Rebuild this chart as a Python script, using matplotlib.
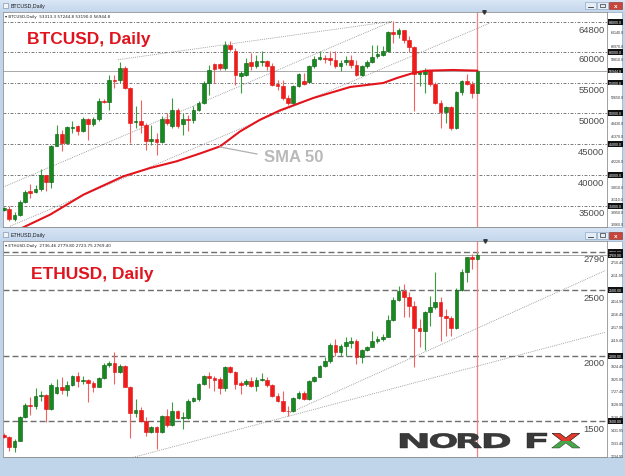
import matplotlib
matplotlib.use("Agg")
import matplotlib.pyplot as plt
import numpy as np
from matplotlib.patches import Rectangle, PathPatch
from matplotlib.textpath import TextPath
from matplotlib.font_manager import FontProperties
from matplotlib.transforms import Affine2D, blended_transform_factory
from matplotlib.colors import to_rgb

plt.rcParams['font.family'] = ['Liberation Sans', 'DejaVu Sans']

W, H, DPI = 625, 477, 100

# ---------------- BTCUSD daily OHLC ----------------
btc_open = [34400, 34540, 32920, 33570, 35620, 37350, 37250, 37790, 39950, 38810,
            44760, 46700, 45190, 47620, 47890, 47080, 49080, 48270, 49080, 52050,
            51840, 55460, 55460, 57350, 54110, 48600, 48810, 48160, 45570, 45890,
            45350, 49140, 47890, 50600, 48330, 49080, 48970, 50490, 51680, 54920,
            58000, 58000, 57350, 61140, 60160, 56000, 56270, 58270, 57620, 58320,
            58540, 57620, 54760, 54380, 52490, 51680, 54380, 55190, 55030, 57620,
            58870, 58970, 58970, 58700, 57620, 58270, 58700, 57780, 56160, 57620,
            58320, 59240, 59510, 60050, 63130, 62920, 63460, 61840, 60700, 56430,
            56320, 56970, 54810, 51680, 50160, 50970, 47620, 53410, 55300, 54810,
            53300]
btc_high = [34820, 34920, 33950, 35890, 37520, 38600, 38430, 40970, 40060, 44920,
            48160, 47350, 48000, 48700, 48160, 49410, 49240, 49410, 52490, 52330,
            56270, 56270, 58270, 57620, 54270, 51140, 52110, 48430, 48160, 46810,
            49510, 50060, 52490, 50870, 50060, 49780, 51140, 51950, 55190, 57890,
            58100, 58160, 61680, 61680, 60590, 56810, 58970, 59780, 59510, 60050,
            58700, 58160, 55460, 55460, 53030, 54650, 56540, 56540, 57780, 59240,
            60050, 59510, 60050, 60050, 58700, 59240, 59510, 58700, 57780, 58700,
            61140, 61140, 60870, 63300, 64920, 63840, 63570, 62490, 60870, 56970,
            57350, 57080, 55030, 52220, 51140, 51140, 53570, 55460, 56380, 55190,
            57080]
btc_low = [34100, 32490, 32490, 33410, 35460, 36270, 37080, 37350, 37350, 37890,
           44650, 43840, 45080, 46810, 46540, 46920, 45730, 48000, 48700, 51680,
           50600, 54110, 54920, 53950, 45190, 47620, 46810, 44110, 44920, 43300,
           45190, 48160, 47620, 47620, 46540, 47080, 48430, 50330, 51570, 53030,
           54920, 57080, 57080, 60050, 54650, 53300, 56000, 57080, 57350, 57620,
           57080, 54380, 53840, 52220, 51410, 51570, 54270, 54650, 54920, 57350,
           58700, 58160, 57890, 57350, 56810, 57890, 57350, 56000, 56000, 57350,
           58160, 58970, 59240, 59890, 61410, 62220, 61410, 59890, 50430, 54380,
           53300, 54380, 51570, 47620, 48430, 47240, 47460, 53030, 54650, 52490,
           53250]
btc_close = [34650, 32920, 33570, 35620, 37250, 37080, 37790, 39950, 38810, 44760,
             46700, 45190, 47730, 47840, 47080, 49140, 48270, 49080, 52050, 51840,
             55460, 55300, 57350, 54110, 48430, 48810, 48160, 45570, 45890, 45350,
             49140, 48430, 50600, 47890, 49080, 48970, 50490, 51680, 54920, 56970,
             57190, 57350, 61140, 60430, 56270, 56540, 58160, 57620, 58540, 58540,
             57620, 54650, 54430, 52490, 51680, 54490, 56380, 54810, 57620, 58810,
             59140, 58810, 58700, 57620, 58160, 58700, 57780, 56160, 57620, 58320,
             59140, 59680, 60050, 63130, 62920, 63460, 61840, 60700, 56380, 56650,
             56970, 54810, 51680, 50160, 50970, 47620, 53410, 55240, 54810, 53300,
             56940]
# SMA 50 (bar index, value)
btc_sma_x = [2.5, 8.75, 15.1, 22.7, 27.8, 32.8, 37.3, 41.1, 44.9, 48.7, 52.5,
             58.8, 65.8, 72.1, 74.7, 77.8, 80.4, 85.4, 90]
btc_sma = [31040, 33570, 36810, 39790, 41140, 42220, 43500, 44650, 47080, 48970,
           50490, 52490, 54270, 54920, 55730, 56540, 56920, 57030, 56920]
btc_levels = [64800, 60000, 55000, 50000, 45000, 40000, 35000]
btc_level_labels = ["64800", "60000", "55000", "50000", "45000", "40000", "35000"]
btc_bid = 56944.8
btc_scale_vals = [63140.0, 60970.0, 58810.0, 52650.0, 48430.0, 46370.0,
                  42220.0, 38010.0, 36110.0, 33950.0, 32060.0]
# trend lines (bar index, price)
btc_trend = [((21.67, 58700), (73.76, 64920)),
             ((-0.13, 38050), (73.76, 64920)),
             ((1.14, 31690), (92.4, 64650))]

# ---------------- ETHUSD daily OHLC ----------------
eth_open = [1395.9, 1383.2, 1307.1, 1352.8, 1530.4, 1626.9, 1619.3, 1690.3, 1700.5, 1593.9,
            1715.7, 1758.9, 1741.1, 1774.1, 1842.6, 1809.6, 1817.2, 1789.3, 1763.9, 1829.9,
            1931.4, 1944.1, 1878.2, 1921.3, 1763.9, 1560.9, 1586.3, 1505.1, 1416.2, 1459.4,
            1421.3, 1538.1, 1472.1, 1581.2, 1525.4, 1525.4, 1657.3, 1670.0, 1784.2, 1842.6,
            1829.9, 1822.3, 1753.8, 1916.2, 1873.1, 1789.3, 1784.2, 1804.5, 1771.6, 1814.7,
            1817.2, 1776.7, 1690.3, 1657.3, 1581.2, 1581.2, 1675.1, 1715.7, 1670.0, 1804.5,
            1840.1, 1923.8, 1956.8, 2083.8, 2025.4, 2071.1, 2096.4, 2109.1, 1992.4, 2043.3,
            2068.5, 2109.1, 2126.9, 2144.6, 2271.5, 2423.8, 2494.9, 2444.1, 2380.7, 2210.6,
            2190.3, 2329.9, 2368.0, 2411.1, 2304.5, 2286.8, 2210.6, 2500.0, 2639.6, 2748.7,
            2736.0]
eth_high = [1408.6, 1390.8, 1365.5, 1538.1, 1637.0, 1687.8, 1753.8, 1733.5, 1708.1, 1789.3,
            1822.3, 1835.0, 1809.6, 1852.8, 1873.1, 1847.7, 1822.3, 1809.6, 1840.1, 1941.6,
            1961.9, 2030.4, 1936.5, 1931.4, 1771.6, 1670.0, 1606.6, 1530.4, 1467.0, 1467.0,
            1548.2, 1593.9, 1644.6, 1588.8, 1568.5, 1670.0, 1687.8, 1791.9, 1852.8, 1873.1,
            1847.7, 1835.0, 1923.8, 1923.8, 1885.8, 1809.6, 1822.3, 1835.0, 1835.0, 1865.5,
            1835.0, 1784.2, 1715.7, 1733.5, 1619.3, 1682.7, 1728.4, 1728.4, 1814.7, 1847.7,
            1931.4, 1992.4, 2093.9, 2126.9, 2088.8, 2139.6, 2144.6, 2126.9, 2050.7, 2076.1,
            2185.2, 2152.3, 2164.9, 2312.2, 2444.1, 2533.0, 2545.6, 2482.2, 2418.7, 2279.2,
            2342.6, 2456.8, 2634.5, 2444.1, 2355.3, 2304.5, 2515.2, 2659.9, 2753.8, 2774.1,
            2779.1]
eth_low = [1373.1, 1276.6, 1264.0, 1347.7, 1525.4, 1550.7, 1593.9, 1657.3, 1492.4, 1586.3,
           1708.1, 1708.1, 1695.4, 1766.5, 1758.9, 1784.2, 1644.6, 1720.8, 1758.9, 1822.3,
           1911.1, 1784.2, 1870.5, 1758.9, 1373.1, 1530.4, 1492.4, 1390.8, 1408.6, 1289.3,
           1413.7, 1454.3, 1467.0, 1517.8, 1441.6, 1517.8, 1649.7, 1657.3, 1779.2, 1753.8,
           1733.5, 1708.1, 1728.4, 1865.5, 1746.2, 1708.1, 1771.6, 1758.9, 1728.4, 1809.6,
           1763.9, 1682.7, 1649.7, 1568.5, 1543.1, 1568.5, 1670.0, 1662.5, 1665.0, 1797.0,
           1835.0, 1911.1, 1941.6, 2000.0, 2000.0, 2000.0, 2058.3, 1936.5, 1941.6, 2038.1,
           2063.4, 2093.9, 2114.2, 2139.6, 2261.4, 2418.7, 2291.8, 2296.9, 1916.2, 2063.4,
           2043.3, 2228.4, 2355.3, 2109.1, 2152.3, 2152.3, 2203.0, 2494.9, 2558.3, 2659.9,
           2730.0]
eth_close = [1383.2, 1307.1, 1352.8, 1530.4, 1626.9, 1619.3, 1690.3, 1700.5, 1593.9, 1779.2,
             1758.9, 1741.1, 1774.1, 1842.6, 1809.6, 1817.2, 1789.3, 1763.9, 1829.9, 1931.4,
             1944.1, 1878.2, 1921.3, 1763.9, 1560.9, 1586.3, 1505.1, 1416.2, 1459.4, 1421.3,
             1538.1, 1472.1, 1581.2, 1525.4, 1535.5, 1657.3, 1677.6, 1784.2, 1842.6, 1829.9,
             1817.2, 1753.8, 1916.2, 1873.1, 1784.2, 1779.2, 1804.5, 1771.6, 1817.2, 1819.8,
             1776.7, 1690.3, 1657.3, 1581.2, 1576.1, 1675.1, 1715.7, 1670.0, 1804.5, 1840.1,
             1923.8, 1956.8, 2083.8, 2025.4, 2071.1, 2101.5, 2109.1, 1992.4, 2043.3, 2068.5,
             2109.1, 2126.9, 2144.6, 2271.5, 2423.8, 2494.9, 2444.1, 2380.7, 2210.6, 2190.3,
             2329.9, 2368.0, 2411.1, 2304.5, 2286.8, 2210.6, 2500.0, 2639.6, 2748.7, 2736.0,
             2769.0]
eth_levels = [2790, 2500, 2000, 1500]
eth_level_labels = ["2790", "2500", "2000", "1500"]
eth_bid = 2769.0
eth_scale_vals = [2710.45, 2611.95, 2414.95, 2316.45, 2217.95, 2119.45, 1924.45,
                  1825.95, 1727.45, 1628.95, 1530.45, 1431.95, 1333.45, 1234.95]
eth_trend = [((24.58, 1226.1), (114.26, 2177.8)),
             ((54.05, 1560.0), (114.26, 2646.9))]

btc_info = "BTCUSD,Daily  53313.3 57244.8 53190.0 56944.8"
eth_info = "ETHUSD,Daily  2736.46 2779.80 2723.75 2769.40"

GREEN, GREEN_EDGE, GREEN_WICK = '#168a1e', '#0b5a10', '#3a9e40'
RED, RED_EDGE, RED_WICK = '#f01b1b', '#e01010', '#f26060'
TXT_RED = '#e0141e'
CUR_BAR = 90

fig = plt.figure(figsize=(W / DPI, H / DPI), dpi=DPI)
fig.patch.set_facecolor('#c0d4ea')


def pix_axes(x0, y0, x1, y1, z):
    return fig.add_axes([x0 / W, 1 - y1 / H, (x1 - x0) / W, (y1 - y0) / H], zorder=z)


# ---------- background chrome ----------
back = pix_axes(0, 0, W, H, 0)


def grad(ax, x0, x1, y0, y1, ctop, cbot):
    t = np.linspace(0, 1, 24)[:, None]
    img = (np.array(to_rgb(ctop)) * (1 - t) + np.array(to_rgb(cbot)) * t)[:, None, :]
    ax.imshow(img, extent=(x0, x1, y1, y0), aspect='auto', interpolation='bilinear', zorder=0)


grad(back, 0, W, 0, 13, '#dce8f6', '#c4d7ed')
grad(back, 0, W, 229, 242, '#d6e4f4', '#c4d7ed')
back.add_patch(Rectangle((3, 13.3), 619, 215, fc='white', ec='#9fb4cc', lw=0.6, zorder=1))
back.add_patch(Rectangle((3, 242), 619, 215.5, fc='white', ec='#9fb4cc', lw=0.6, zorder=1))
back.set_xlim(0, W)
back.set_ylim(H, 0)
back.axis('off')


def candles(ax, o, h, l, c, min_h):
    o, h, l, c = map(np.asarray, (o, h, l, c))
    x = np.arange(len(o))
    up = c >= o
    ax.vlines(x, l, h, colors=np.where(up, GREEN_WICK, RED_WICK), lw=0.8, zorder=3)
    bottom = np.minimum(o, c)
    height = np.maximum(np.abs(c - o), min_h)
    ax.bar(x, height, bottom=bottom, width=0.7, color=np.where(up, GREEN, RED),
           edgecolor=np.where(up, GREEN_EDGE, RED_EDGE), lw=0.4, zorder=4)


def setup_chart(ax, ylim, levels, level_labels, dash, lcolor, lw, bid, scale_vals,
                box_vals, fmt, info, o, h, l, c, min_h, trends):
    ax.set_xlim((3 - 4) / 5.26, (607 - 4) / 5.26)
    ax.set_ylim(*ylim)
    ax.set_xticks([])
    ax.set_yticks([])
    for s in ax.spines.values():
        s.set_color('#909090')
        s.set_linewidth(0.6)
    tr = blended_transform_factory(ax.transAxes, ax.transData)
    for v, lab in zip(levels, level_labels):
        ax.axhline(v, color=lcolor, lw=lw, ls=dash, zorder=1)
        ax.annotate(lab, xy=(1, v), xycoords=tr, xytext=(-1.8, -6.9),
                    textcoords='offset points', ha='right', va='baseline',
                    fontsize=6.8, color='#4a4a4a', zorder=6)
    ax.axhline(bid, color='#a8a8a8', lw=0.7, zorder=1)
    ax.axvline(CUR_BAR, color='#f08484', lw=0.9, zorder=2)
    for (x0, y0), (x1, y1) in trends:
        ax.plot([x0, x1], [y0, y1], color='#8c8c8c', lw=0.6, ls=(0, (1, 1.3)), zorder=2)
    candles(ax, o, h, l, c, min_h)
    for v in scale_vals:
        ax.text(1.006, v, fmt.format(v), transform=tr, fontsize=2.6, color='#303030',
                ha='left', va='center', clip_on=False)
    for v in box_vals:
        ax.text(1.003, v, fmt.format(v), transform=tr, fontsize=2.6, color='white',
                ha='left', va='center', clip_on=False,
                bbox=dict(boxstyle='square,pad=0.25', fc='#111111', ec='none'))
    ax.text(0.004, 0.992, '\u25be ' + info, transform=ax.transAxes, fontsize=3.0,
            color='#202020', ha='left', va='top', family=['DejaVu Sans'])


btc_ax = pix_axes(3, 13.3, 607, 228.3, 1)
setup_chart(btc_ax, (31521, 66383), btc_levels, btc_level_labels, (0, (3, 1.6, 1, 1.6)),
            '#7a7a7a', 0.7, btc_bid, btc_scale_vals,
            btc_levels + [btc_bid], '{:.1f}', btc_info,
            btc_open, btc_high, btc_low, btc_close, 120, btc_trend)
btc_ax.plot(btc_sma_x, btc_sma, color='#e3141c', lw=1.5, zorder=5, solid_capstyle='round')
# SMA 50 label with pointer
btc_ax.plot([41.06, 48.1], [44542, 43407], color='#b0b0b0', lw=0.9, zorder=5)
btc_ax.text(49.4, 42223, 'SMA 50', fontsize=12, fontweight='bold', color='#b9b9b9',
            ha='left', va='baseline', zorder=6)

eth_ax = pix_axes(3, 242, 607, 457.5, 1)
setup_chart(eth_ax, (1232.2, 2873.0), eth_levels, eth_level_labels, (0, (4.3, 2.2)),
            '#6e6e6e', 1.0, eth_bid, eth_scale_vals,
            eth_levels + [eth_bid], '{:.2f}', eth_info,
            eth_open, eth_high, eth_low, eth_close, 6, eth_trend)

# ---------- front overlay ----------
front = pix_axes(0, 0, W, H, 3)
front.set_xlim(0, W)
front.set_ylim(H, 0)
front.axis('off')

front.text(27, 44.3, 'BTCUSD, Daily', fontsize=12.5, fontweight='bold', color=TXT_RED,
           ha='left', va='baseline')
front.text(31, 279.3, 'ETHUSD, Daily', fontsize=12.5, fontweight='bold', color=TXT_RED,
           ha='left', va='baseline')

# window title bars
for (ty, label) in [(6.5, 'BTCUSD,Daily'), (236.0, 'ETHUSD,Daily')]:
    front.add_patch(Rectangle((3, ty - 2.8), 5, 5, fc='#f4f4f4', ec='#6a87a8', lw=0.4))
    front.text(11, ty, label, fontsize=3.8, color='#1a1a1a', ha='left', va='center')
    by = ty - 3.5
    front.add_patch(Rectangle((585, by), 11, 7, fc='#e4edf8', ec='#7f9db9', lw=0.4))
    front.add_patch(Rectangle((597, by), 11, 7, fc='#e4edf8', ec='#7f9db9', lw=0.4))
    front.add_patch(Rectangle((609, by), 13, 7, fc='#c8453c', ec='#8a2a24', lw=0.4))
    front.plot([588, 593], [by + 5, by + 5], color='#333', lw=0.6)
    front.add_patch(Rectangle((600, by + 1.8), 5, 3.5, fc='none', ec='#333', lw=0.5))
    front.text(615.5, by + 3.6, 'x', fontsize=4.5, color='white', ha='center', va='center',
               fontweight='bold')

# chart shift markers
front.plot([484], [13.0], marker='v', ms=2.5, color='#333333')
front.plot([485], [242.0], marker='v', ms=2.5, color='#333333')

# NORD FX logo (stretched letters)
fp = FontProperties(family='DejaVu Sans', weight='bold')


def letter(ch, x0, x1, ytop, ybot, color):
    tp = TextPath((0, 0), ch, size=10, prop=fp)
    bb = tp.get_extents()
    t = Affine2D().translate(-bb.x0, -bb.y0).scale((x1 - x0) / bb.width,
                                                   -(ybot - ytop) / bb.height).translate(x0, ybot)
    p = PathPatch(t.transform_path(tp), fc=color, ec='#1e1e1e', lw=0.3, zorder=5)
    front.add_patch(p)
    return p


logo_top, logo_bot = 434.3, 449.0
for ch, x0, x1 in [('N', 400, 427.3), ('O', 430, 456.7), ('R', 458, 481.7),
                   ('D', 484, 510), ('F', 527, 547)]:
    letter(ch, x0, x1, logo_top, logo_bot, '#3a3a3a')
letter('X', 551.7, 580, logo_top, logo_bot, '#46a84a')
px = letter('X', 551.7, 580, logo_top, logo_bot, '#e23b2e')
clip = Rectangle((551, logo_top - 1), 30, (logo_bot - logo_top) / 2 + 1,
                 transform=front.transData)
px.set_clip_path(clip)

fig.savefig('out.png', dpi=DPI)
